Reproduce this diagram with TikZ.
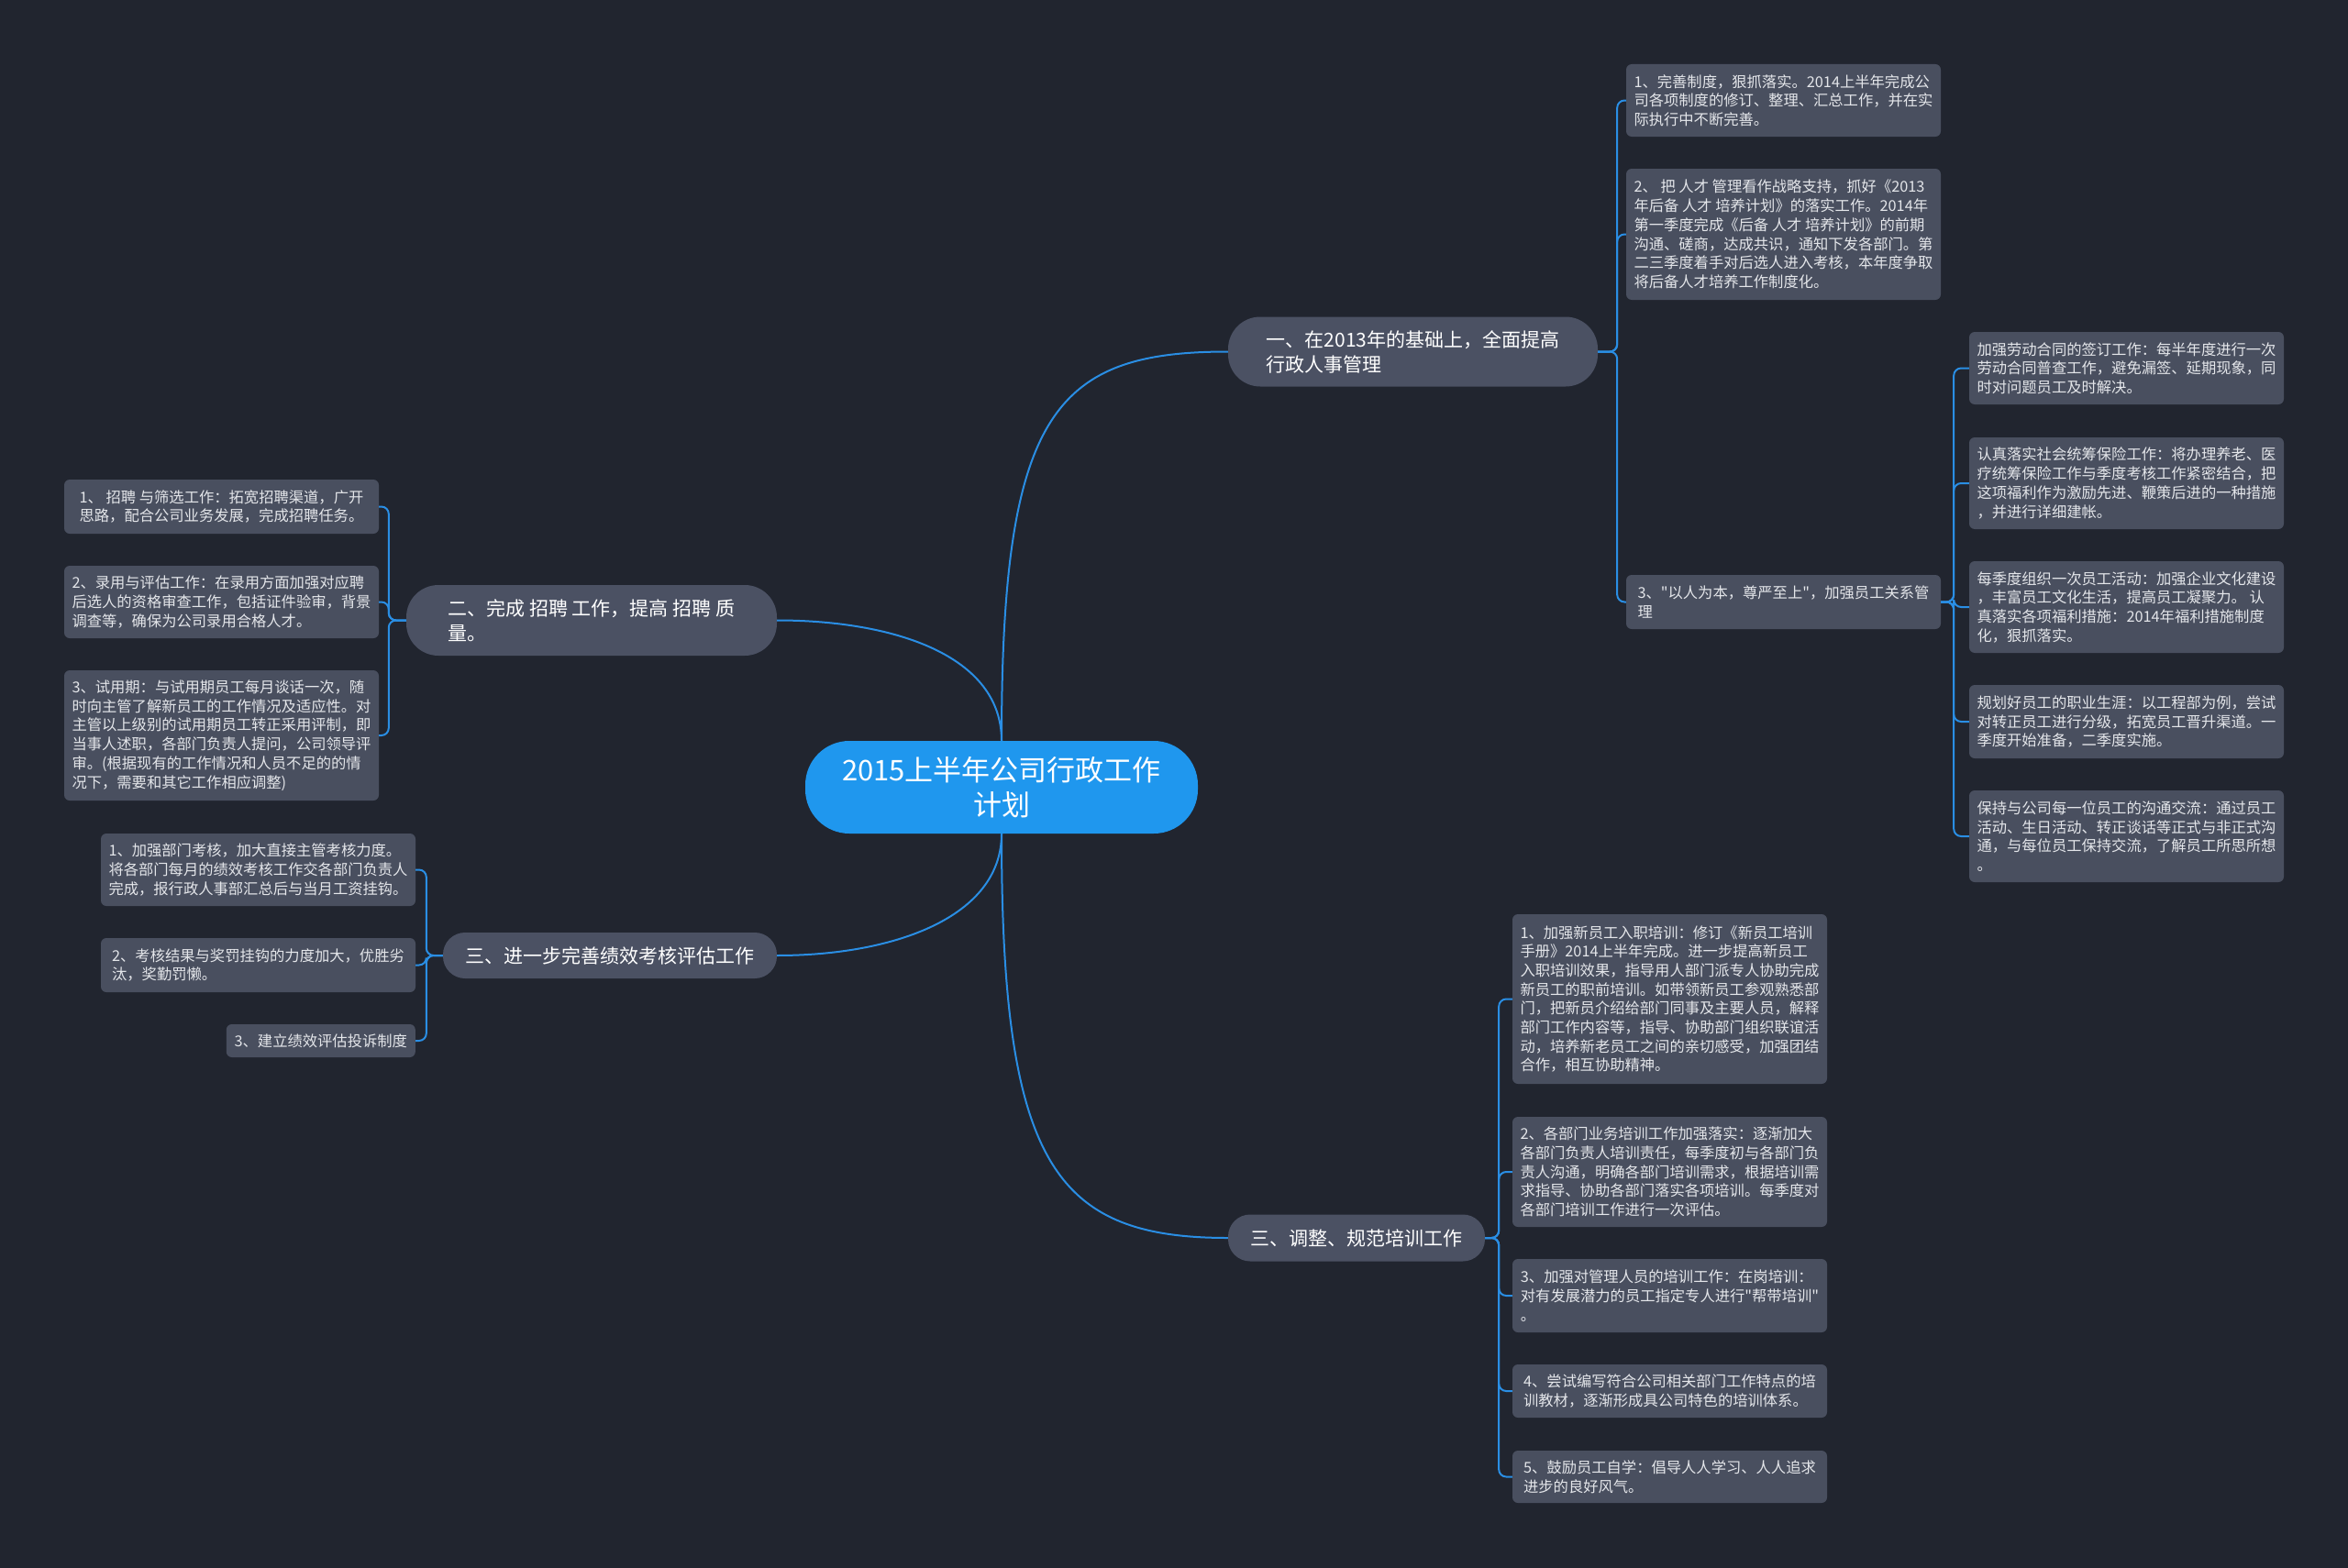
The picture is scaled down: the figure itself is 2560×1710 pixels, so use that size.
\documentclass[tikz,border=0pt]{standalone}
\usepackage{fontspec}
\setmainfont{Noto Sans CJK SC}[Ligatures=TeXOff]
\definecolor{bgc}{HTML}{21252F}
\definecolor{leafc}{HTML}{494F5F}
\definecolor{mainc}{HTML}{4B5163}
\definecolor{leaftext}{HTML}{E4E6EA}
\definecolor{centerc}{HTML}{1F97EE}
\definecolor{linkc}{HTML}{2A8EE4}
\tikzset{
  leaf/.style={fill=leafc, rounded corners=6pt, text=leaftext, align=left,
    font=\fontsize{16.3}{20.7}\selectfont, minimum width=343pt, inner xsep=8pt, inner ysep=3pt},
  mainnode/.style={fill=mainc, text=white, align=left,
    font=\fontsize{21}{27}\selectfont, inner xsep=24pt, inner ysep=3pt},
  centernode/.style={fill=centerc, text=white, align=center, rounded corners=48pt,
    font=\fontsize{31}{38}\selectfont, minimum width=428pt, minimum height=101pt, inner ysep=3pt},
  conn/.style={draw=linkc, line width=2pt},
  branch/.style={conn, rounded corners=8pt}
}
\begin{document}
\begin{tikzpicture}[x=1pt,y=-1pt]
\fill[bgc] (0,0) rectangle (2560,1710);
\useasboundingbox (0,0) rectangle (2560,1710);

% center
\node[centernode] (c) at (1092,858.5) {2015上半年公司行政工作\\计划};

% main nodes
\node[mainnode, rounded corners=35pt, minimum width=403pt, minimum height=76pt] (m1) at (1540.5,383.5)
  {一、在2013年的基础上，全面提高\\行政人事管理};
\node[mainnode, rounded corners=35pt, minimum width=404pt, minimum height=77pt] (m2) at (645,676.5)
  {二、完成 招聘 工作，提高 招聘 质\\量。};
\node[mainnode, rounded corners=24pt, minimum width=364pt, minimum height=50pt] (m3) at (665,1042)
  {三、进一步完善绩效考核评估工作};
\node[mainnode, rounded corners=24pt, minimum width=280pt, minimum height=51pt] (m4) at (1479,1350)
  {三、调整、规范培训工作};

% leaves of m1
\node[leaf, minimum height=79pt] (a1) at (1944.5,109.5)
  {1、完善制度，狠抓落实。2014上半年完成公\\司各项制度的修订、整理、汇总工作，并在实\\际执行中不断完善。};
\node[leaf, minimum height=143pt] (a2) at (1944.5,255.5)
  {2、 把 人才 管理看作战略支持，抓好《2013\\年后备 人才 培养计划》的落实工作。2014年\\第一季度完成《后备 人才 培养计划》的前期\\沟通、磋商，达成共识，通知下发各部门。第\\二三季度着手对后选人进入考核，本年度争取\\将后备人才培养工作制度化。};
\node[leaf, minimum height=59pt] (a3) at (1944.5,656.5)
  {3、"以人为本，尊严至上"，加强员工关系管\\理};

% leaves of a3
\node[leaf, minimum height=79pt] (b1) at (2318.5,401.5)
  {加强劳动合同的签订工作：每半年度进行一次\\劳动合同普查工作，避免漏签、延期现象，同\\时对问题员工及时解决。};
\node[leaf, minimum height=100pt] (b2) at (2318.5,527)
  {认真落实社会统筹保险工作：将办理养老、医\\疗统筹保险工作与季度考核工作紧密结合，把\\这项福利作为激励先进、鞭策后进的一种措施\\，并进行详细建帐。};
\node[leaf, minimum height=100pt] (b3) at (2318.5,662)
  {每季度组织一次员工活动：加强企业文化建设\\，丰富员工文化生活，提高员工凝聚力。 认\\真落实各项福利措施：2014年福利措施制度\\化，狠抓落实。};
\node[leaf, minimum height=80pt] (b4) at (2318.5,787)
  {规划好员工的职业生涯：以工程部为例，尝试\\对转正员工进行分级，拓宽员工晋升渠道。一\\季度开始准备，二季度实施。};
\node[leaf, minimum height=100pt] (b5) at (2318.5,912)
  {保持与公司每一位员工的沟通交流：通过员工\\活动、生日活动、转正谈话等正式与非正式沟\\通，与每位员工保持交流，了解员工所思所想\\。};

% leaves of m2
\node[leaf, minimum height=59pt] (l1) at (241.5,552.5)
  {1、 招聘 与筛选工作：拓宽招聘渠道，广开\\思路，配合公司业务发展，完成招聘任务。};
\node[leaf, minimum height=79pt] (l2) at (241.5,656.5)
  {2、录用与评估工作：在录用方面加强对应聘\\后选人的资格审查工作，包括证件验审，背景\\调查等，确保为公司录用合格人才。};
\node[leaf, minimum height=142pt] (l3) at (241.5,802)
  {3、试用期：与试用期员工每月谈话一次，随\\时向主管了解新员工的工作情况及适应性。对\\主管以上级别的试用期员工转正采用评制，即\\当事人述职，各部门负责人提问，公司领导评\\审。(根据现有的工作情况和人员不足的的情\\况下，需要和其它工作相应调整)};

% leaves of m3
\node[leaf, minimum height=79pt] (p1) at (281.5,948.5)
  {1、加强部门考核，加大直接主管考核力度。\\将各部门每月的绩效考核工作交各部门负责人\\完成，报行政人事部汇总后与当月工资挂钩。};
\node[leaf, minimum height=59pt] (p2) at (281.5,1052.5)
  {2、考核结果与奖罚挂钩的力度加大，优胜劣\\汰，奖勤罚懒。};
\node[leaf, minimum width=206pt, minimum height=36pt, anchor=east] (p3) at (453,1135)
  {3、建立绩效评估投诉制度};

% leaves of m4
\node[leaf, minimum height=185pt] (t1) at (1820.5,1089.5)
  {1、加强新员工入职培训：修订《新员工培训\\手册》2014上半年完成。进一步提高新员工\\入职培训效果，指导用人部门派专人协助完成\\新员工的职前培训。如带领新员工参观熟悉部\\门，把新员介绍给部门同事及主要人员，解释\\部门工作内容等，指导、协助部门组织联谊活\\动，培养新老员工之间的亲切感受，加强团结\\合作，相互协助精神。};
\node[leaf, minimum height=120pt] (t2) at (1820.5,1278)
  {2、各部门业务培训工作加强落实：逐渐加大\\各部门负责人培训责任，每季度初与各部门负\\责人沟通，明确各部门培训需求，根据培训需\\求指导、协助各部门落实各项培训。每季度对\\各部门培训工作进行一次评估。};
\node[leaf, minimum height=80pt] (t3) at (1820.5,1413)
  {3、加强对管理人员的培训工作：在岗培训：\\对有发展潜力的员工指定专人进行"帮带培训"\\。};
\node[leaf, minimum height=58pt] (t4) at (1820.5,1517)
  {4、尝试编写符合公司相关部门工作特点的培\\训教材，逐渐形成具公司特色的培训体系。};
\node[leaf, minimum height=57pt] (t5) at (1820.5,1610.5)
  {5、鼓励员工自学：倡导人人学习、人人追求\\进步的良好风气。};

% center connectors
\draw[conn] (c.north) .. controls (1092,450) and (1150,383.5) .. (m1.west);
\draw[conn] (c.north) .. controls (1092,715) and (975,676.5) .. (m2.east);
\draw[conn] (c.south) .. controls (1092,1000) and (975,1042) .. (m3.east);
\draw[conn] (c.south) .. controls (1092,1270) and (1150,1350) .. (m4.west);

% branch connectors
\foreach \n in {a1,a2,a3}{\draw[branch] (m1.east) -- ++(21,0) |- (\n.west);}
\foreach \n in {b1,b2,b3,b4,b5}{\draw[branch] (a3.east) -- ++(14,0) |- (\n.west);}
\foreach \n in {l1,l2,l3}{\draw[branch] (m2.west) -- ++(-19,0) |- (\n.east);}
\foreach \n in {p1,p2,p3}{\draw[branch] (m3.west) -- ++(-18,0) |- (\n.east);}
\foreach \n in {t1,t2,t3,t4,t5}{\draw[branch] (m4.east) -- ++(15,0) |- (\n.west);}
\end{tikzpicture}
\end{document}
